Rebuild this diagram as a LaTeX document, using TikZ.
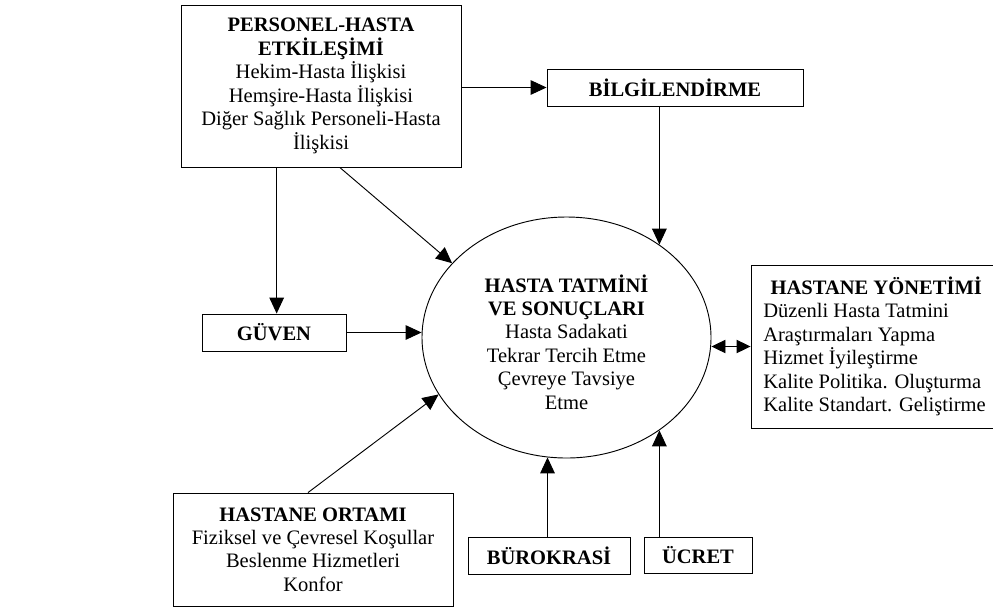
\documentclass[tikz,border=0pt]{standalone}
\usepackage{fontspec}
\setmainfont{Liberation Serif}
\usetikzlibrary{arrows.meta,shapes.geometric}

\begin{document}
\begin{tikzpicture}[x=0.75pt,y=-0.75pt,
	kutu/.style={draw=black,line width=0.7pt,rectangle,inner sep=0pt,align=center,font=\fontsize{15.4}{17.6}\selectfont},
	yazi/.style={inner sep=0pt,align=center,font=\fontsize{15.4}{17.6}\selectfont},
	ok/.style={line width=0.7pt,-{Triangle[length=12pt,width=11pt]}},
	ciftok/.style={line width=0.7pt,{Triangle[length=10.5pt,width=10pt]}-{Triangle[length=10.5pt,width=10pt]}}]
	\useasboundingbox (0,0) rectangle (993,608);
	
	%Personel-Hasta etkilesimi
	\node[kutu,minimum width=210pt,minimum height=121.5pt] (perso) at (321,86) {\textbf{PERSONEL-HASTA}\\\textbf{ETKİLEŞİMİ}\\Hekim-Hasta İlişkisi\\Hemşire-Hasta İlişkisi\\Diğer Sağlık Personeli-Hasta\\İlişkisi};
	\node[kutu,minimum width=192pt,minimum height=27.75pt] (bilgi) at (675,87.5) {\textbf{BİLGİLENDİRME}};
	\node[kutu,minimum width=108pt,minimum height=27.75pt] (guven) at (274,332.5) {\textbf{GÜVEN}};
	
	%Merkez
	\node[draw=black,line width=0.7pt,ellipse,inner sep=0pt,minimum width=216.75pt,minimum height=180.75pt] (hasta) at (566.5,337.5) {};
	\node[yazi] (hastayazi) at (566.5,342) {\textbf{HASTA TATMİNİ}\\\textbf{VE SONUÇLARI}\\Hasta Sadakati\\Tekrar Tercih Etme\\Çevreye Tavsiye\\Etme};
	
	%Yonetim
	\node[kutu,align=left,minimum width=185.25pt,minimum height=122.25pt] (yonetim) at (874.5,346.5) {\hspace*{5.5pt}\textbf{HASTANE YÖNETİMİ}\\Düzenli Hasta Tatmini\\Araştırmaları Yapma\\Hizmet İyileştirme\\Kalite Politika. Oluşturma\\Kalite Standart. Geliştirme};
	
	%Alt kutular
	\node[kutu,minimum width=210pt,minimum height=84.75pt] (ortam) at (313,549.5) {\textbf{HASTANE ORTAMI}\\Fiziksel ve Çevresel Koşullar\\Beslenme Hizmetleri\\Konfor};
	\node[kutu,minimum width=121.5pt,minimum height=27.75pt] (buro) at (549,555.5) {\textbf{BÜROKRASİ}};
	\node[kutu,minimum width=81pt,minimum height=27pt] (ucret) at (698,555) {\textbf{ÜCRET}};
	
	%Oklar
	\draw[ok] (perso.-77) -- (hasta.147);
	\draw[ok] (bilgi.west -| perso.east) -- (bilgi.west);
	\draw[ok] (hasta.45 |- bilgi.south) -- (hasta.45);
	\draw[ok] ([xshift=2pt]guven.north |- perso.south) -- ([xshift=2pt]guven.north);
	\draw[ok] (guven.east) -- (guven.east -| hasta.west);
	\draw[ok] (ortam.95) -- (hasta.-156);
	\draw[ok] (hasta.-99 |- buro.north) -- (hasta.-99);
	\draw[ok] (hasta.-45 |- ucret.north) -- (hasta.-45);
	\draw[ciftok] (hasta.east |- yonetim.west) -- (yonetim.west);
\end{tikzpicture}
\end{document}
